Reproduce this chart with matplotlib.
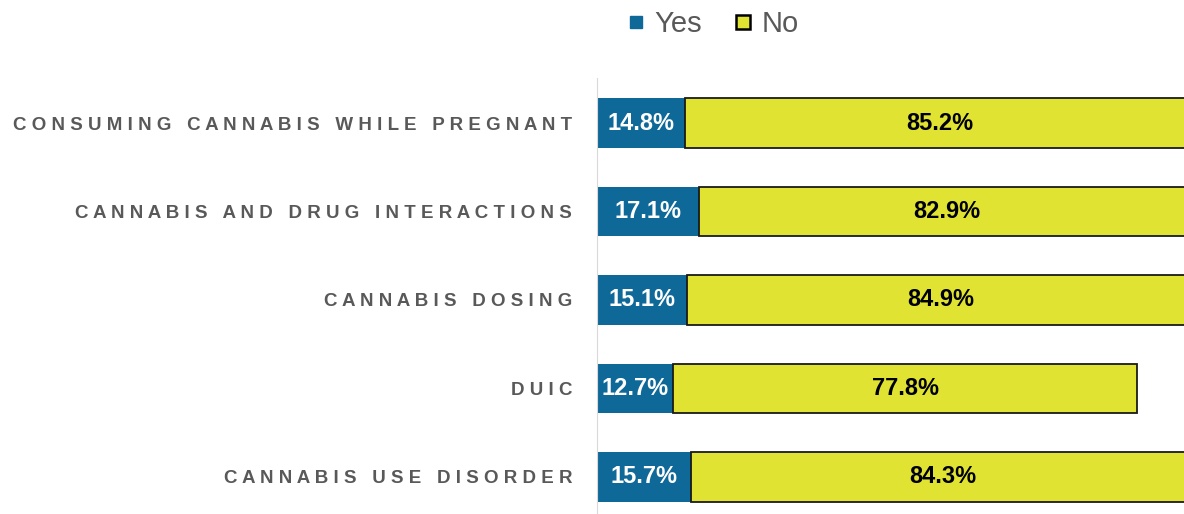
import numpy as np
from matplotlib import pyplot as plt
from matplotlib.lines import Line2D

categories = ['Consuming cannabis while pregnant', 'Cannabis and drug interactions',
              'Cannabis dosing', 'DUIC', 'Cannabis use disorder']
yes_vals = [14.8, 17.1, 15.1, 12.7, 15.7]
no_vals = [85.2, 82.9, 84.9, 77.8, 84.3]

blue = '#0e6898'
yellow = '#e1e333'
gray = '#595959'

plt.rcParams['font.family'] = ['Liberation Sans', 'DejaVu Sans']

fig = plt.figure(figsize=(11.84, 5.14), dpi=100)
ax = fig.add_axes([597 / 1184, 0.0, 597 / 1184, 436 / 514])

y = np.arange(len(categories))
yes = np.array(yes_vals)
no = np.array(no_vals)

ax.barh(y, yes, height=0.56, color=blue, edgecolor='none')
ax.barh(y, no, left=yes, height=0.56, color=yellow, edgecolor='#1a1a1a', linewidth=1.3)

for i in range(len(y)):
    ax.text(yes[i] / 2, y[i], f'{yes[i]:.1f}%', ha='center', va='center',
            color='white', fontsize=17, fontweight='bold')
    ax.text(yes[i] + no[i] / 2, y[i], f'{no[i]:.1f}%', ha='center', va='center',
            color='black', fontsize=17, fontweight='bold')

ax.set_xlim(0, 100)
ax.set_ylim(4.42, -0.51)
ax.set_yticks(y)
ax.set_yticklabels([' '.join(c.upper()) for c in categories], fontsize=13.5,
                   fontweight='bold', color=gray)
ax.tick_params(axis='y', length=0, pad=18)
ax.set_xticks([])
for s in ['top', 'right', 'bottom']:
    ax.spines[s].set_visible(False)
ax.spines['left'].set_color('#d9d9d9')

handles = [Line2D([], [], marker='s', linestyle='', color=blue, markersize=9, markeredgecolor=blue),
           Line2D([], [], marker='s', linestyle='', color=yellow, markersize=10,
                  markeredgecolor='black', markeredgewidth=1.8)]
fig.legend(handles, ['Yes', 'No'], loc='center', bbox_to_anchor=(0.601, 0.953), ncol=2,
           frameon=False, fontsize=21, handletextpad=0.25, columnspacing=1.0,
           handlelength=0.8, labelcolor=gray)

fig.savefig('out.png', dpi=100)
